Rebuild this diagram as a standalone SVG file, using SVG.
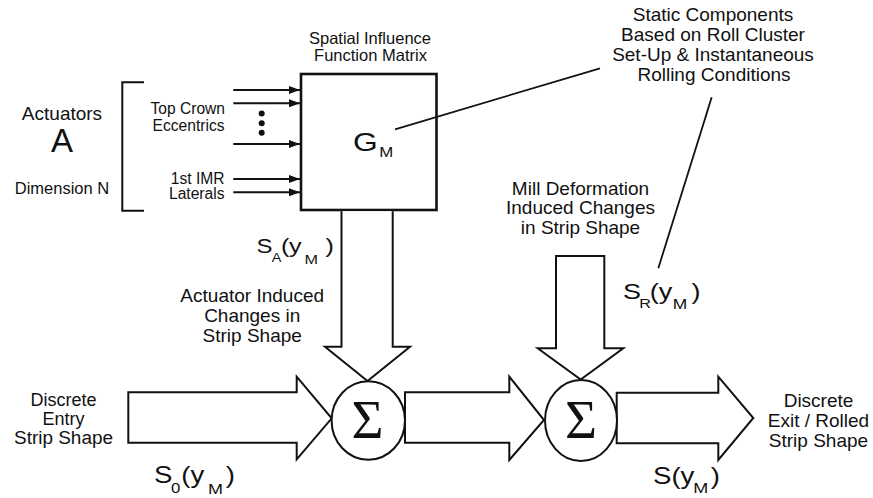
<svg xmlns="http://www.w3.org/2000/svg" width="873" height="498" viewBox="0 0 873 498">
<defs>
<style>
text{font-family:"Liberation Sans",Arial,sans-serif;fill:#111}
.sm{font-size:16.5px}
.xs{font-size:15.6px}
.lb{font-size:19px}
.st{font-size:19px}
.c{text-anchor:middle}
.r{text-anchor:end}
.sig{font-family:"Liberation Serif","Times New Roman",serif;font-size:55px;text-anchor:middle}
.ol{fill:#fff;stroke:#111;stroke-width:2;stroke-linejoin:miter}
.ln{fill:none;stroke:#111;stroke-width:2}
.ld{fill:none;stroke:#111;stroke-width:1.8}
</style>
<marker id="ah" markerUnits="userSpaceOnUse" markerWidth="11" markerHeight="8" refX="11" refY="4" orient="auto">
<path d="M0,0 L11,4 L0,8 z" fill="#111"/>
</marker>
</defs>
<rect width="873" height="498" fill="#fff"/>

<g id="actuators">
<text class="lb c" x="62" y="120" font-size="19.5">Actuators</text>
<text class="c" x="62" y="151.7" font-size="33">A</text>
<text class="sm c" x="62" y="193.5">Dimension N</text>
<path class="ln" d="M144,82.3 H122.3 V210.7 H144"/>
<text class="xs r" x="225" y="114.3">Top Crown</text>
<text class="xs r" x="224.5" y="131">Eccentrics</text>
<text class="xs r" x="224.5" y="183.7">1st IMR</text>
<text class="xs r" x="224.5" y="199.3">Laterals</text>
<circle cx="261.7" cy="113.5" r="3" fill="#111"/>
<circle cx="261.7" cy="123.3" r="3" fill="#111"/>
<circle cx="261.7" cy="132.7" r="3" fill="#111"/>
</g>

<g id="matrix">
<text class="sm c" x="370" y="43.5">Spatial Influence</text>
<text class="sm c" x="370.5" y="60.5">Function Matrix</text>
<rect x="301" y="74" width="135.5" height="136" fill="#fff" stroke="#111" stroke-width="2.6"/>
<text transform="translate(353,150.7) scale(1.2,1)" font-size="26.5">G<tspan x="21.9" y="6.6" font-size="14">M</tspan></text>
</g>

<g id="static-note">
<text class="st c" x="713" y="21">Static Components</text>
<text class="st c" x="713" y="41">Based on Roll Cluster</text>
<text class="st c" x="713" y="61">Set-Up &amp; Instantaneous</text>
<text class="st c" x="714" y="81">Rolling Conditions</text>
</g>

<g id="mill-label">
<text class="lb c" x="580.5" y="195" font-size="19.5">Mill Deformation</text>
<text class="lb c" x="580.5" y="214.3" font-size="19.5">Induced Changes</text>
<text class="lb c" x="580.5" y="233.5" font-size="19.5">in Strip Shape</text>
</g>

<g id="actuator-label">
<text class="lb c" x="252.2" y="301.7" font-size="19.5">Actuator Induced</text>
<text class="lb c" x="252.2" y="321.7" font-size="19.5">Changes in</text>
<text class="lb c" x="252.2" y="341.7" font-size="19.5">Strip Shape</text>
</g>

<g id="entry-label">
<text class="c" x="63.5" y="406" font-size="18">Discrete</text>
<text class="c" x="63.5" y="425" font-size="18">Entry</text>
<text class="c" x="63.5" y="444.3" font-size="18" textLength="99" lengthAdjust="spacingAndGlyphs">Strip Shape</text>
</g>

<g id="exit-label">
<text class="lb c" x="818.5" y="407.3">Discrete</text>
<text class="lb c" x="818.5" y="427">Exit / Rolled</text>
<text class="lb c" x="818.5" y="446.7">Strip Shape</text>
</g>

<g id="symbols">
<text transform="translate(256.5,253.3) scale(1.2,1)" font-size="20">S<tspan x="12.7" y="8.4" font-size="12">A</tspan><tspan x="20.4" y="0" font-size="21">(</tspan><tspan x="27" y="0" font-size="21">y</tspan><tspan x="40" y="10.7" font-size="13.5">M</tspan><tspan x="57.5" y="0" font-size="21">)</tspan></text>
<text transform="translate(154,483.3) scale(1.2,1)" font-size="23">S<tspan x="14.2" y="10" font-size="14">0</tspan><tspan x="22.8" y="0">(y</tspan><tspan x="45" y="11" font-size="15">M</tspan><tspan x="59.8" y="0">)</tspan></text>
<text transform="translate(623,299) scale(1.2,1)" font-size="22.5">S<tspan x="13.6" y="9.3" font-size="13.5">R</tspan><tspan x="22.3" y="0">(y</tspan><tspan x="41.4" y="10.3" font-size="14.5">M</tspan><tspan x="57" y="0">)</tspan></text>
<text transform="translate(653,483.5) scale(1.2,1)" font-size="23">S(y<tspan x="33.6" y="9.8" font-size="15">M</tspan><tspan x="48.2" y="0">)</tspan></text>
</g>

<g id="connectors">
<line class="ln" x1="233.3" y1="90" x2="300" y2="90" marker-end="url(#ah)"/>
<line class="ln" x1="233.3" y1="103.3" x2="300" y2="103.3" marker-end="url(#ah)"/>
<line class="ln" x1="233.3" y1="144" x2="300" y2="144" marker-end="url(#ah)"/>
<line class="ln" x1="233.3" y1="179" x2="300" y2="179" marker-end="url(#ah)"/>
<line class="ln" x1="233.3" y1="192.3" x2="300" y2="192.3" marker-end="url(#ah)"/>
<line class="ld" x1="395" y1="129.3" x2="600" y2="68.3"/>
<line class="ld" x1="711.7" y1="97.3" x2="658.3" y2="268.3"/>
<path class="ol" d="M341.5,211.3 V346.7 H325 L367.5,381 L410,346.7 H392.7 V211.3"/>
<path class="ol" d="M556,256 V348.3 H537.7 L580.7,379.5 L623.3,348.3 H604.3 V256 Z"/>
<path class="ol" d="M128.3,392.3 H296.7 V376.7 L331.7,418.3 L296.7,459.3 V442.7 H128.3 Z"/>
<path class="ol" d="M405,392.3 H509.3 V376.7 L544,420 L509.3,460 V442.7 H405 Z"/>
<path class="ol" d="M616.7,392.7 H718.3 V376.7 L753.3,418 L718.3,460 V443.3 H616.7 Z"/>
</g>

<g id="sum1">
<ellipse cx="368.3" cy="420.5" rx="36.7" ry="39.3" fill="#fff" stroke="#111" stroke-width="2"/>
<text class="sig" x="367.5" y="437.7">Σ</text>
</g>
<g id="sum2">
<ellipse cx="581" cy="420.5" rx="36" ry="40.5" fill="#fff" stroke="#111" stroke-width="2"/>
<text class="sig" x="581" y="437.7">Σ</text>
</g>
</svg>
